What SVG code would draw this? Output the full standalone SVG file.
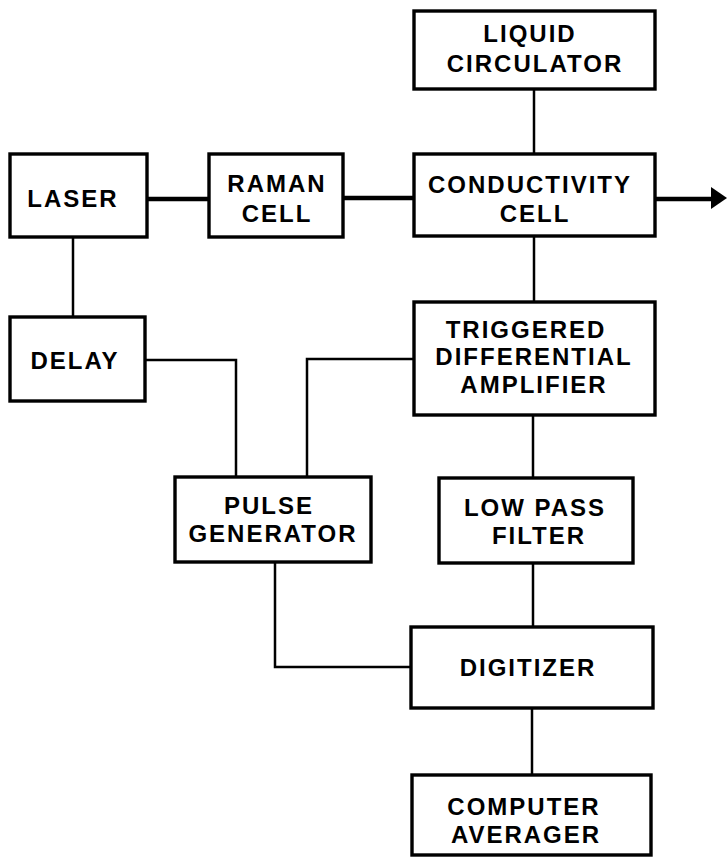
<svg xmlns="http://www.w3.org/2000/svg" width="727" height="858" viewBox="0 0 727 858">
<style>
.box{fill:#fff;stroke:#000;stroke-width:3.4}
.c{fill:none;stroke:#000;stroke-width:2.5;stroke-linejoin:miter}
.beam{fill:none;stroke:#000;stroke-width:4.5}
text{font-family:"Liberation Sans",Arial,sans-serif;font-weight:bold;font-size:24px;letter-spacing:2px;text-anchor:middle;fill:#000}
</style>
<rect width="727" height="858" fill="#fff"/>
<g id="connectors">
<path class="beam" d="M147,199 H209"/>
<path class="beam" d="M343,198 H414"/>
<path class="beam" d="M655,199 H714"/>
<polygon points="711,187 727,198 711,209" fill="#000"/>
<path class="c" d="M534,89 V154"/>
<path class="c" d="M73,237 V317"/>
<path class="c" d="M534,236 V302"/>
<path class="c" d="M145,360 H236 V477"/>
<path class="c" d="M414,359 H307 V477"/>
<path class="c" d="M533,415 V478"/>
<path class="c" d="M533,563 V627"/>
<path class="c" d="M275,562 V667 H411"/>
<path class="c" d="M532,708 V775"/>
</g>
<g id="liquid-circulator"><rect class="box" x="414" y="11" width="241" height="78"/><text x="530" y="42">LIQUID</text><text x="535" y="72">CIRCULATOR</text></g>
<g id="laser"><rect class="box" x="10" y="154" width="137" height="83"/><text x="73" y="207">LASER</text></g>
<g id="raman-cell"><rect class="box" x="209" y="154" width="134" height="83"/><text x="277" y="192">RAMAN</text><text x="277" y="222">CELL</text></g>
<g id="conductivity-cell"><rect class="box" x="414" y="154" width="241" height="82"/><text x="530" y="193">CONDUCTIVITY</text><text x="535" y="222">CELL</text></g>
<g id="delay"><rect class="box" x="10" y="317" width="135" height="84"/><text x="75" y="369">DELAY</text></g>
<g id="triggered-differential-amplifier"><rect class="box" x="414" y="302" width="241" height="113"/><text x="526" y="338">TRIGGERED</text><text x="534" y="365">DIFFERENTIAL</text><text x="534" y="393">AMPLIFIER</text></g>
<g id="pulse-generator"><rect class="box" x="175" y="477" width="196" height="85"/><text x="269" y="514">PULSE</text><text x="273" y="542">GENERATOR</text></g>
<g id="low-pass-filter"><rect class="box" x="439" y="478" width="194" height="85"/><text x="535" y="516">LOW PASS</text><text x="539" y="544">FILTER</text></g>
<g id="digitizer"><rect class="box" x="411" y="627" width="242" height="81"/><text x="528" y="676">DIGITIZER</text></g>
<g id="computer-averager"><rect class="box" x="412" y="775" width="239" height="80"/><text x="524" y="815">COMPUTER</text><text x="526" y="843">AVERAGER</text></g>
</svg>
